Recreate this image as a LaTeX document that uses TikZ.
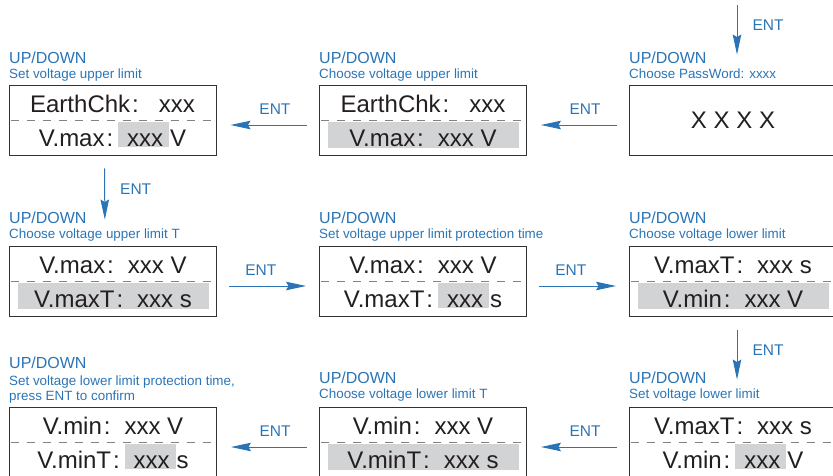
\documentclass[tikz,border=0pt]{standalone}
\usepackage{fontspec}
\setmainfont{Liberation Sans}
\usetikzlibrary{arrows.meta, positioning}
\definecolor{entblue}{RGB}{42,116,182}
\definecolor{lcdtext}{RGB}{35,31,32}
\definecolor{hlgray}{RGB}{210,211,213}
\definecolor{dashgray}{RGB}{130,130,130}
\newcommand{\hlbox}[1]{{\setlength{\fboxsep}{0pt}\colorbox{hlgray}{\rule[-1pt]{0pt}{25pt}\hspace{9pt}#1\hspace{6pt}}}}

\begin{document}
\begin{tikzpicture}[x=1pt, y=-1pt, >={Stealth[length=20pt, width=8.5pt, inset=2.5pt]},
    screen/.style={draw=black!80, line width=0.9pt, minimum width=207pt, minimum height=70pt, inner sep=0pt},
    lcd/.style={anchor=base, font=\fontsize{24}{24}\selectfont, text=lcdtext, inner sep=0pt},
    updown/.style={anchor=base west, font=\fontsize{16}{16}\selectfont, text=entblue, inner sep=0pt},
    hint/.style={anchor=base west, font=\fontsize{13.4}{15}\selectfont, text=entblue, inner sep=0pt},
    flow/.style={->, draw=entblue, line width=1pt},
    ent/.style={font=\fontsize{15.5}{16}\selectfont, text=entblue, inner sep=0pt}]
  \useasboundingbox (0,0) rectangle (833,475);

  % screens
  \node[screen] (pwd) at (733,120) {};
  \node[screen] (vmaxsel) at (423,120) {};
  \node[screen] (vmaxset) at (112.5,120) {};
  \node[screen] (tmaxsel) at (113,281) {};
  \node[screen] (tmaxset) at (423,281) {};
  \node[screen] (vminsel) at (733,281) {};
  \node[screen] (vminset) at (733,442) {};
  \node[screen] (tminsel) at (423,442) {};
  \node[screen] (tminset) at (113,442) {};

  % selected lines
  \foreach \s in {vmaxsel, tmaxsel, vminsel, tminsel}
    \fill[hlgray] ([shift={(9,2)}]\s.west) rectangle ([shift={(-8,-7)}]\s.south east);
  \foreach \s in {vmaxset, vmaxsel, tmaxsel, tmaxset, vminsel, vminset, tminsel, tminset}
    \draw[dashgray, line width=0.9pt, dash pattern=on 8pt off 8pt, dash phase=-2pt] (\s.west) -- (\s.east);

  % screen texts
  \node[lcd] (pwd1) at ([yshift=-8pt]pwd.center) {X X X X};
  \node[lcd] (vmaxsel1) at ([yshift=7.5pt]vmaxsel.center) {EarthChk\hspace{2pt}:\hspace{20pt}xxx};
  \node[lcd] (vmaxsel2) at ([yshift=-26pt]vmaxsel.center) {V.max\hspace{2pt}:\hspace{14pt}xxx V};
  \node[lcd] (vmaxset1) at ([yshift=7.5pt]vmaxset.center) {EarthChk\hspace{2pt}:\hspace{20pt}xxx};
  \node[lcd] (vmaxset2) at ([yshift=-26pt]vmaxset.center) {V.max\hspace{2pt}:\hspace{5pt}\hlbox{xxx}\hspace{1pt}V};
  \node[lcd] (tmaxsel1) at ([yshift=7.5pt]tmaxsel.center) {V.max\hspace{2pt}:\hspace{14pt}xxx V};
  \node[lcd] (tmaxsel2) at ([yshift=-26pt]tmaxsel.center) {V.maxT\hspace{2pt}:\hspace{14pt}xxx s};
  \node[lcd] (tmaxset1) at ([yshift=7.5pt]tmaxset.center) {V.max\hspace{2pt}:\hspace{14pt}xxx V};
  \node[lcd] (tmaxset2) at ([yshift=-26pt]tmaxset.center) {V.maxT\hspace{2pt}:\hspace{5pt}\hlbox{xxx}\hspace{1pt}s};
  \node[lcd] (vminsel1) at ([yshift=7.5pt]vminsel.center) {V.maxT\hspace{2pt}:\hspace{14pt}xxx s};
  \node[lcd] (vminsel2) at ([yshift=-26pt]vminsel.center) {V.min\hspace{2pt}:\hspace{14pt}xxx V};
  \node[lcd] (vminset1) at ([yshift=7.5pt]vminset.center) {V.maxT\hspace{2pt}:\hspace{14pt}xxx s};
  \node[lcd] (vminset2) at ([yshift=-26pt]vminset.center) {V.min\hspace{2pt}:\hspace{5pt}\hlbox{xxx}\hspace{1pt}V};
  \node[lcd] (tminsel1) at ([yshift=7.5pt]tminsel.center) {V.min\hspace{2pt}:\hspace{14pt}xxx V};
  \node[lcd] (tminsel2) at ([yshift=-26pt]tminsel.center) {V.minT\hspace{2pt}:\hspace{14pt}xxx s};
  \node[lcd] (tminset1) at ([yshift=7.5pt]tminset.center) {V.min\hspace{2pt}:\hspace{14pt}xxx V};
  \node[lcd] (tminset2) at ([yshift=-26pt]tminset.center) {V.minT\hspace{2pt}:\hspace{5pt}\hlbox{xxx}\hspace{1pt}s};

  % labels
  \node[updown] (pwdkey) at (629,63) {UP/DOWN};
  \node[hint] (pwdhint) at (629,78) {Choose PassWord: xxxx};
  \node[updown] (vmaxselkey) at (319,63) {UP/DOWN};
  \node[hint] (vmaxselhint) at (319,78) {Choose voltage upper limit};
  \node[updown] (vmaxsetkey) at (9,63) {UP/DOWN};
  \node[hint] (vmaxsethint) at (9,78) {Set voltage upper limit};
  \node[updown] (tmaxselkey) at (9,223) {UP/DOWN};
  \node[hint] (tmaxselhint) at (9,238) {Choose voltage upper limit T};
  \node[updown] (tmaxsetkey) at (319,223) {UP/DOWN};
  \node[hint] (tmaxsethint) at (319,238) {Set voltage upper limit protection time};
  \node[updown] (vminselkey) at (629,223) {UP/DOWN};
  \node[hint] (vminselhint) at (629,238) {Choose voltage lower limit};
  \node[updown] (vminsetkey) at (629,383) {UP/DOWN};
  \node[hint] (vminsethint) at (629,398) {Set voltage lower limit};
  \node[updown] (tminselkey) at (319,383) {UP/DOWN};
  \node[hint] (tminselhint) at (319,398) {Choose voltage lower limit T};
  \node[updown] (tminsetkey) at (9,368) {UP/DOWN};
  \node[hint] (tminsethint) at (9,385) {Set voltage lower limit protection time,};
  \node[hint] (tminsethintb) at (9,400) {press ENT to confirm};

  % ENT steps
  \coordinate (entry) at (737,5);
  \draw[flow, shorten >=30pt] (entry) -- node[ent, pos=.32, anchor=base west, xshift=15pt] {ENT} ([xshift=4pt]pwd.north);
  \draw[flow, shorten <=12pt, shorten >=14pt] ([yshift=-5pt]pwd.west) -- node[ent, pos=.43, anchor=base, yshift=11pt] {ENT} ([yshift=-5pt]vmaxsel.east);
  \draw[flow, shorten <=12pt, shorten >=14pt] ([yshift=-5pt]vmaxsel.west) -- node[ent, pos=.43, anchor=base, yshift=11pt] {ENT} ([yshift=-5pt]vmaxset.east);
  \draw[flow, shorten <=13pt, shorten >=26pt] ([xshift=-8pt]vmaxset.south) -- node[ent, pos=.43, anchor=base west, xshift=15pt] {ENT} ([xshift=-8pt]tmaxsel.north);
  \draw[flow, shorten <=12pt, shorten >=13pt] ([yshift=-5pt]tmaxsel.east) -- node[ent, pos=.43, anchor=base, yshift=11pt] {ENT} ([yshift=-5pt]tmaxset.west);
  \draw[flow, shorten <=12pt, shorten >=13pt] ([yshift=-5pt]tmaxset.east) -- node[ent, pos=.43, anchor=base, yshift=11pt] {ENT} ([yshift=-5pt]vminsel.west);
  \draw[flow, shorten <=14pt, shorten >=27pt] ([xshift=4pt]vminsel.south) -- node[ent, pos=.43, anchor=base west, xshift=15pt] {ENT} ([xshift=4pt]vminset.north);
  \draw[flow, shorten <=12pt, shorten >=14pt] ([yshift=-5pt]vminset.west) -- node[ent, pos=.43, anchor=base, yshift=11pt] {ENT} ([yshift=-5pt]tminsel.east);
  \draw[flow, shorten <=12pt, shorten >=14pt] ([yshift=-5pt]tminsel.west) -- node[ent, pos=.43, anchor=base, yshift=11pt] {ENT} ([yshift=-5pt]tminset.east);
\end{tikzpicture}
\end{document}
